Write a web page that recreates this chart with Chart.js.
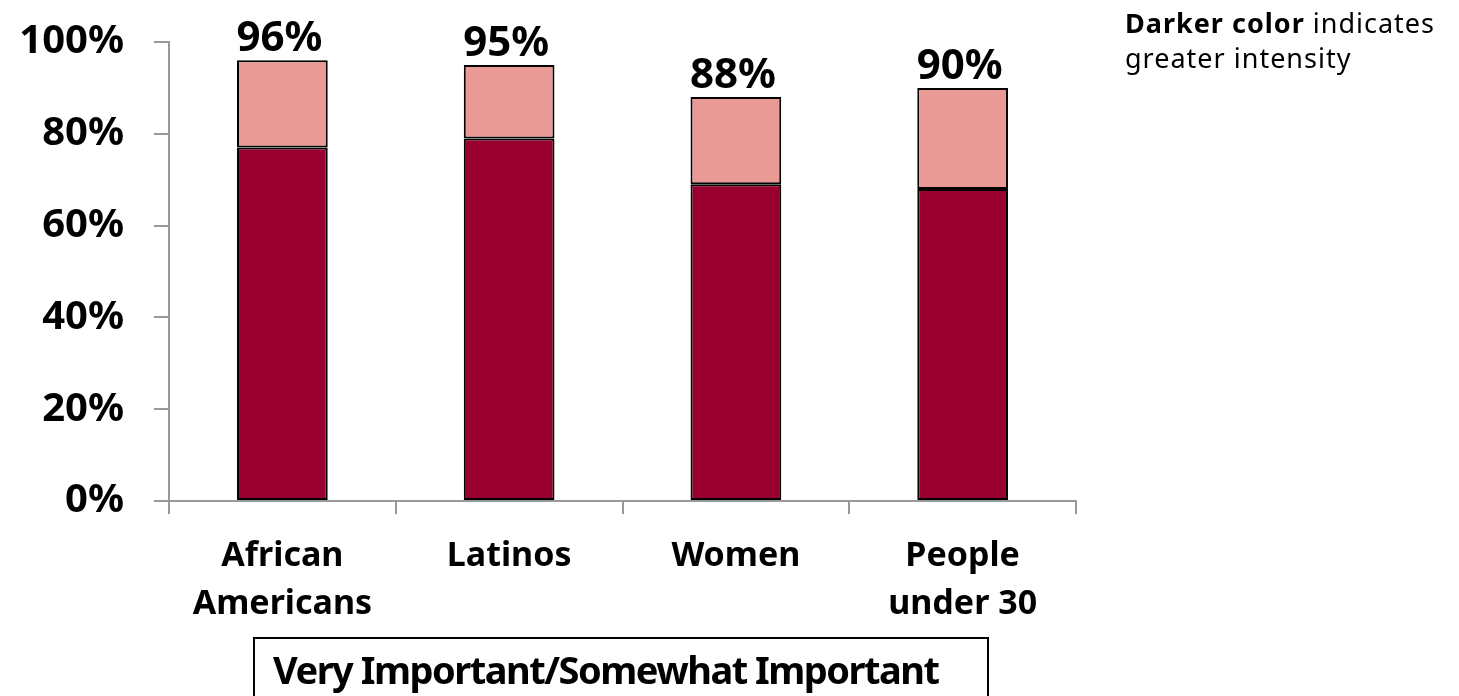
<!DOCTYPE html>
<html>
<head>
<meta charset="utf-8">
<script src="https://cdn.jsdelivr.net/npm/chart.js@4"></script>
<style>
  body { margin: 0; background: #fff; }
  #wrap { width: 1459px; height: 696px; position: relative; }
</style>
</head>
<body>
<div id="wrap"><canvas id="importanceChart"></canvas></div>
<script>
// data
const categories = [['African', 'Americans'], 'Latinos', 'Women', ['People', 'under 30']];
const veryImportant = [77, 79, 69, 68];      // dark part
const somewhatImportant = [19, 16, 19, 22];  // light part
const yTicks = [0, 20, 40, 60, 80, 100];
const boxText = 'Very Important/Somewhat Important';
const noteBold = 'Darker color';
const noteRest = ' indicates';
const noteLine2 = 'greater intensity';

const FONT = '"Noto Sans", "Open Sans", sans-serif';

// totals above each bar + note at right + box under the axis
const extrasPlugin = {
    id: 'extras',
    afterDatasetsDraw(chart) {
        const ctx = chart.ctx;
        const topMeta = chart.getDatasetMeta(1);
        ctx.save();
        ctx.fillStyle = '#000';
        ctx.font = 'bold 42px ' + FONT;
        ctx.textAlign = 'center';
        ctx.textBaseline = 'bottom';
        topMeta.data.forEach((bar, i) => {
            const total = veryImportant[i] + somewhatImportant[i];
            ctx.fillText(total + '%', bar.x - 3, bar.y);
        });
        ctx.restore();
    },
    afterDraw(chart) {
        const ctx = chart.ctx;
        ctx.save();
        // note top right
        ctx.fillStyle = '#000';
        ctx.textAlign = 'left';
        ctx.textBaseline = 'alphabetic';
        ctx.letterSpacing = '1px';
        ctx.font = 'bold 27px ' + FONT;
        ctx.fillText(noteBold, 1125, 33);
        const w = ctx.measureText(noteBold).width;
        ctx.font = '27px ' + FONT;
        ctx.fillText(noteRest, 1125 + w, 33);
        ctx.fillText(noteLine2, 1125, 68);

        // box at the bottom
        ctx.strokeStyle = '#000';
        ctx.lineWidth = 2;
        ctx.strokeRect(254, 638, 734, 80);
        ctx.letterSpacing = '-1.5px';
        ctx.font = 'bold 38px ' + FONT;
        ctx.fillText(boxText, 273, 684);
        ctx.restore();
    }
};

const ctx = document.getElementById('importanceChart').getContext('2d');
new Chart(ctx, {
    type: 'bar',
    data: {
        labels: categories,
        datasets: [{
            label: 'Very important',
            data: veryImportant,
            backgroundColor: '#990030',
            borderColor: '#000',
            borderWidth: 2,
            borderSkipped: false
        }, {
            label: 'Somewhat important',
            data: somewhatImportant,
            backgroundColor: '#E99A95',
            borderColor: '#000',
            borderWidth: 2,
            borderSkipped: false
        }]
    },
    options: {
        responsive: true,
        maintainAspectRatio: false,
        animation: false,
        layout: { padding: { top: 42, right: 383, bottom: 0, left: 0 } },
        datasets: { bar: { categoryPercentage: 1, barPercentage: 0.4 } },
        scales: {
            x: {
                stacked: true,
                grid: { display: true, drawOnChartArea: false, drawTicks: true, tickLength: 13, color: '#999', lineWidth: 2 },
                border: { display: true, color: '#999', width: 2 },
                ticks: {
                    color: '#000',
                    font: { family: FONT, size: 34, weight: 'bold', lineHeight: 1.42 },
                    padding: 18,
                    maxRotation: 0
                },
                afterFit: scale => {
                    scale.height = 195;
                    scale.paddingLeft = 0;
                    scale.paddingRight = 0;
                }
            },
            y: {
                stacked: true,
                min: 0,
                max: 100,
                afterBuildTicks: scale => { scale.ticks = yTicks.map(v => ({ value: v })); },
                grid: { display: true, drawOnChartArea: false, drawTicks: true, tickLength: 15, color: '#999', lineWidth: 2 },
                border: { display: true, color: '#999', width: 2 },
                ticks: {
                    color: '#000',
                    font: { family: FONT, size: 40, weight: 'bold' },
                    padding: 30,
                    callback: v => v + '%'
                },
                afterFit: scale => {
                    scale.width = 169;
                    scale.paddingTop = 0;
                    scale.paddingBottom = 0;
                }
            }
        },
        plugins: {
            legend: { display: false },
            tooltip: { enabled: false }
        }
    },
    plugins: [extrasPlugin]
});
</script>
</body>
</html>
